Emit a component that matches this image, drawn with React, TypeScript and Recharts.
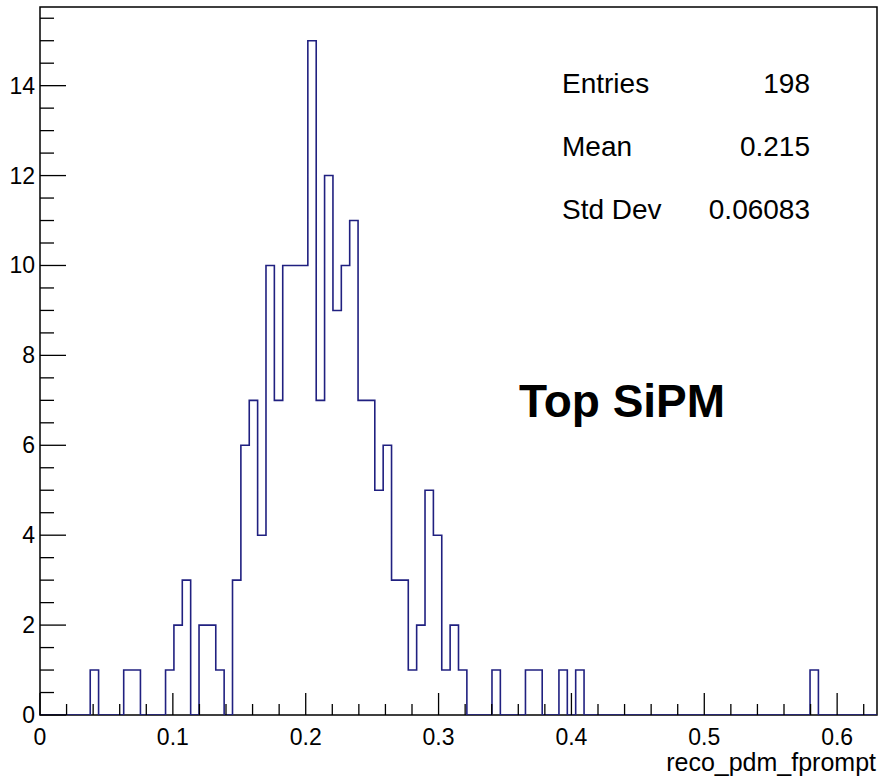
import { LineChart, Line, XAxis, YAxis, ReferenceArea, Customized } from "recharts"

// histogram of reco_pdm_fprompt, 100 bins over [0, 0.63]
const binCounts = [
  0, 0, 0, 0, 0, 0, 1, 0, 0, 0,
  1, 1, 0, 0, 0, 1, 2, 3, 0, 2,
  2, 1, 0, 3, 6, 7, 4, 10, 7, 10,
  10, 10, 15, 7, 12, 9, 10, 11, 7, 7,
  5, 6, 3, 3, 1, 2, 5, 4, 1, 2,
  1, 0, 0, 0, 1, 0, 0, 0, 1, 1,
  0, 0, 1, 0, 1, 0, 0, 0, 0, 0,
  0, 0, 0, 0, 0, 0, 0, 0, 0, 0,
  0, 0, 0, 0, 0, 0, 0, 0, 0, 0,
  0, 0, 1, 0, 0, 0, 0, 0, 0, 0,
]
const xMin = 0
const xMax = 0.63
const yMax = 15.75
const binWidth = (xMax - xMin) / binCounts.length

const xMajorTicks = [0, 0.1, 0.2, 0.3, 0.4, 0.5, 0.6]
const xMinorTicks = Array.from({ length: 32 }, (_, i) => Math.round(i * 2) / 100)
const yMajorTicks = [0, 2, 4, 6, 8, 10, 12, 14]
const yMinorTicks = Array.from({ length: 32 }, (_, i) => i * 0.5)

const statLabels = ["Entries", "Mean", "Std Dev"]
const statValues = ["198", "0.215", "0.06083"]

const xTitle = "reco_pdm_fprompt"
const annotation = "Top SiPM"

const histData = [
  ...binCounts.map((c, i) => ({ x: xMin + i * binWidth, count: c })),
  { x: xMax, count: 0 },
]

const FONT = "'Liberation Sans', Arial, Helvetica, sans-serif"

const isIn = (arr: number[], v: number) => arr.some((t) => Math.abs(t - v) < 1e-9)

function XTick(props: any) {
  const { x, y, payload } = props
  const v = payload.value
  const major = isIn(xMajorTicks, v)
  return (
    <g>
      <line x1={x} x2={x} y1={y} y2={y - (major ? 22 : 11)} stroke="#000" strokeWidth={1.3} />
      {major && (
        <text x={x} y={y + 30} textAnchor="middle" fontSize={23} fontFamily={FONT} fill="#000">
          {String(v)}
        </text>
      )}
    </g>
  )
}

function YTick(props: any) {
  const { x, y, payload } = props
  const v = payload.value
  const major = isIn(yMajorTicks, v)
  return (
    <g>
      <line x1={x} x2={x + (major ? 26 : 14)} y1={y} y2={y} stroke="#000" strokeWidth={1.3} />
      {major && (
        <text x={x - 5} y={y + 8} textAnchor="end" fontSize={23} fontFamily={FONT} fill="#000">
          {String(v)}
        </text>
      )}
    </g>
  )
}

function Annotations() {
  return (
    <g fontFamily={FONT} fill="#000">
      {statLabels.map((s, i) => (
        <g key={s}>
          <text x={562} y={93 + i * 63} fontSize={28}>{s}</text>
          <text x={810} y={93 + i * 63} fontSize={28} textAnchor="end">{statValues[i]}</text>
        </g>
      ))}
      <text x={519} y={417} fontSize={46} fontWeight="bold">{annotation}</text>
      <text x={876} y={771} fontSize={25} textAnchor="end">{xTitle}</text>
    </g>
  )
}

export default function App() {
  return (
    <div style={{ position: "absolute", left: 0, top: 0, width: 879, height: 779, background: "#fff" }}>
      <LineChart
        width={879}
        height={779}
        data={histData}
        margin={{ top: 7, right: 2, left: 39, bottom: 63 }}
      >
        <XAxis
          type="number"
          dataKey="x"
          domain={[xMin, xMax]}
          ticks={xMinorTicks}
          interval={0}
          tick={<XTick />}
          tickLine={false}
          tickSize={0}
          tickMargin={0}
          axisLine={false}
          height={1}
          allowDataOverflow
        />
        <YAxis
          type="number"
          domain={[0, yMax]}
          ticks={yMinorTicks}
          interval={0}
          tick={<YTick />}
          tickLine={false}
          tickSize={0}
          tickMargin={0}
          axisLine={false}
          width={1}
          allowDataOverflow
        />
        <ReferenceArea
          x1={xMin}
          x2={xMax}
          y1={0}
          y2={yMax}
          fill="none"
          fillOpacity={0}
          stroke="#000"
          strokeWidth={1.5}
        />
        <Line
          type="stepAfter"
          dataKey="count"
          stroke="#202080"
          strokeWidth={1.6}
          dot={false}
          activeDot={false}
          isAnimationActive={false}
        />
        <Customized component={<Annotations />} />
      </LineChart>
    </div>
  )
}
